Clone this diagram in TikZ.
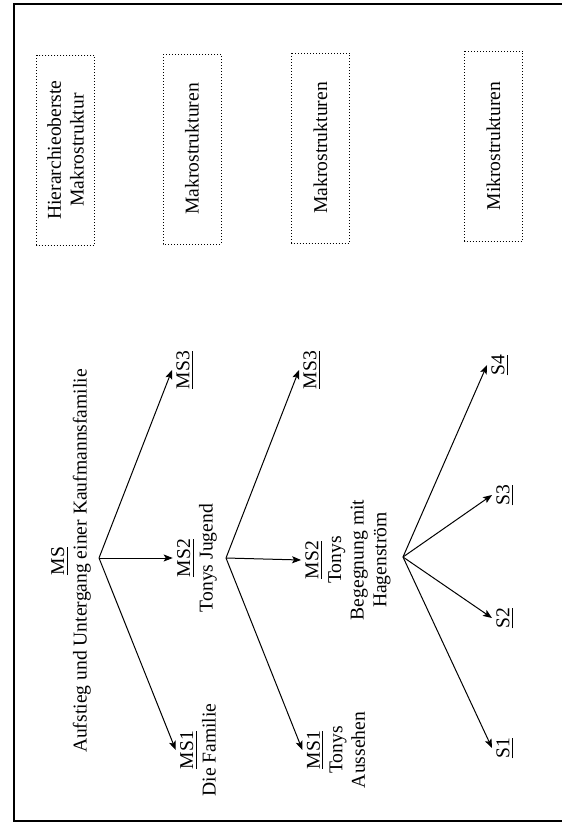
\documentclass[tikz,border=0pt]{standalone}
\usepackage{fontspec}
\setmainfont{Liberation Serif}
\usetikzlibrary{arrows.meta, positioning}

\begin{document}
\begin{tikzpicture}[
        x=0.5pt, y=-0.5pt,
        txt/.style={rotate=90, align=center, font=\fontsize{9.8}{11.3}\selectfont, inner sep=2pt},
        levelbox/.style={txt, draw, densely dotted, line width=0.5pt, minimum width=95pt, minimum height=29pt},
        arrow/.style={-{Stealth[length=4.5pt, width=3.5pt, inset=1pt]}, line width=0.5pt}
    ]
        \useasboundingbox (0,0) rectangle (562,831);

        % Frame
        \draw[line width=0.6pt] (562,4) -- (14,4) -- (14,821) -- (562,821);

        % Level boxes
        \node[levelbox] (lvl0) at (65.5,150) {Hierarchieoberste\\Makrostruktur};
        \node[levelbox] (lvl1) at (192,149) {Makrostrukturen};
        \node[levelbox] (lvl2) at (320.5,148) {Makrostrukturen};
        \node[levelbox] (lvl3) at (493.5,146) {Mikrostrukturen};

        % Top level
        \node[txt] (ms) at (71,561) {\underline{MS}\\Aufstieg und Untergang einer Kaufmannsfamilie};

        % First macro level
        \node[txt] (ms1a) at (198,750) {\underline{MS1}\\Die Familie};
        \node[txt] (ms2a) at (197,558) {\underline{MS2}\\Tonys Jugend};
        \node[txt] (ms3a) at (185,370) {\underline{MS3}};

        % Second macro level
        \node[txt] (ms1b) at (336,750) {\underline{MS1}\\Tonys\\Aussehen};
        \node[txt] (ms2b) at (348,560) {\underline{MS2}\\Tonys\\Begegnung mit\\Hagenström};
        \node[txt] (ms3b) at (312,370) {\underline{MS3}};

        % Micro level
        \node[txt] (s1) at (505,748) {\underline{S1}};
        \node[txt] (s2) at (505,618) {\underline{S2}};
        \node[txt] (s3) at (505,495) {\underline{S3}};
        \node[txt] (s4) at (500,365) {\underline{S4}};

        % Branch points
        \coordinate (b0) at (99,558);
        \coordinate (b1) at (226,558);
        \coordinate (b2) at (403,557);

        % Arrows
        \draw[arrow] (b0) -- (ms1a.north);
        \draw[arrow] (b0) -- (ms2a.north);
        \draw[arrow] (b0) -- (ms3a.north);
        \draw[arrow] (b1) -- (ms1b.north);
        \draw[arrow] (b1) -- (ms2b.north);
        \draw[arrow] (b1) -- (ms3b.north);
        \draw[arrow] (b2) -- (s1.north);
        \draw[arrow] (b2) -- (s2.north);
        \draw[arrow] (b2) -- (s3.north);
        \draw[arrow] (b2) -- (s4.north);
    \end{tikzpicture}
\end{document}
